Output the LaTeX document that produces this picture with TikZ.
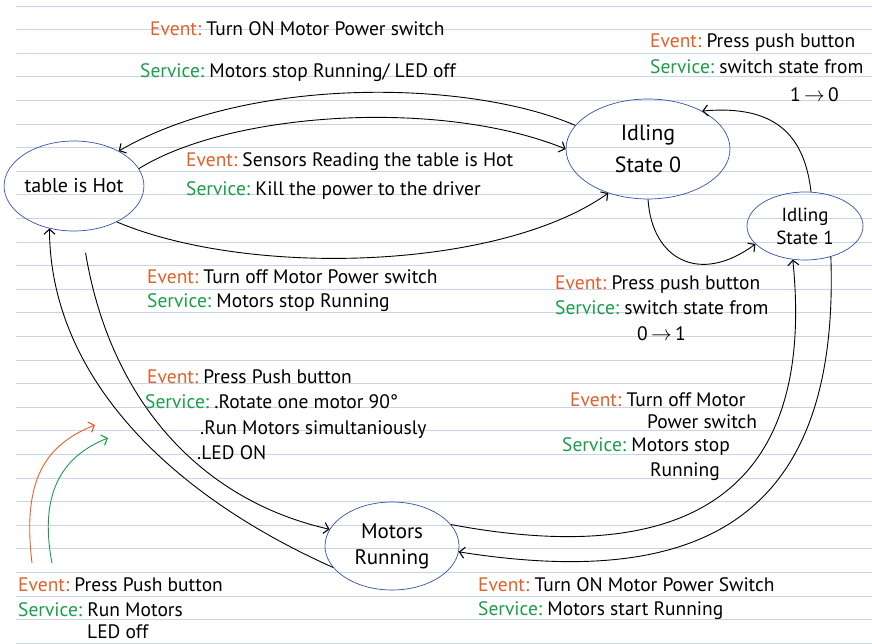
\documentclass[tikz,border=0pt]{standalone}
\usepackage{fontspec}
\setmainfont{PT Sans}
\usepackage{tikz}
\usetikzlibrary{shapes.geometric,arrows.meta,positioning}
\definecolor{evorange}{HTML}{E2602A}
\definecolor{svgreen}{HTML}{1B9E48}
\definecolor{ovalblue}{HTML}{3552A6}
\definecolor{ruleblue}{HTML}{C8D5E9}
\newcommand{\evt}{\textcolor{evorange}{Event:}}
\newcommand{\svc}{\textcolor{svgreen}{Service:}}
\tikzset{
  state/.style={ellipse,draw=ovalblue,line width=0.7pt,inner sep=0pt,align=center,font=\fontsize{21}{26}\selectfont},
  note/.style={anchor=west,inner sep=0pt,font=\fontsize{19.5}{22}\selectfont},
  trans/.style={line width=0.9pt,-{Straight Barb[length=5pt,width=11pt,line width=1.1pt]}},
  ruleline/.style={ruleblue,line width=0.8pt}
}

\begin{document}
\begin{tikzpicture}[x=1pt,y=-1pt]
  \useasboundingbox (0,0) rectangle (872,644);
  \fill[white] (0,0) rectangle (872,644);
  \foreach \k in {0,...,27}
    \draw[ruleline] (16,{6+23.6*\k}) -- (872,{6+23.6*\k});

  \node[state,minimum width=132pt,minimum height=90pt,font=\fontsize{20}{24}\selectfont] (hot) at (74,186) {table is Hot};
  \node[state,minimum width=164pt,minimum height=100pt,font=\fontsize{22}{32}\selectfont] (idle0) at (648,149) {Idling\\State 0};
  \node[state,minimum width=116pt,minimum height=68pt,font=\fontsize{19}{23}\selectfont] (idle1) at (805,226) {Idling\\State 1};
  \node[state,minimum width=134pt,minimum height=88pt] (motors) at (392,546) {Motors\\Running};

  \draw[trans] (idle0.162) .. controls (470,80) and (250,75) .. (hot.38);
  \draw[trans] (hot.15) .. controls (230,112) and (440,98) .. (idle0.west);
  \draw[trans] (hot.320) .. controls (250,278) and (500,270) .. (idle0.228);
  \draw[trans] (idle0.south) .. controls (652,260) and (700,285) .. (idle1.200);
  \draw[trans] (idle1.80) .. controls (805,140) and (780,104) .. (idle0.35);
  \draw[trans] (motors.20) .. controls (640,560) and (820,530) .. (idle1.250);
  \draw[trans] (idle1.310) .. controls (840,520) and (700,590) .. (motors.355);
  \draw[trans,shorten <=22pt] (hot.280) .. controls (110,400) and (200,500) .. (motors.165);
  \draw[trans] (motors.200) .. controls (160,490) and (50,370) .. (hot.240);

  \coordinate (orS) at (32,563);
  \coordinate (orE) at (95,425);
  \coordinate (grS) at (52,563);
  \coordinate (grE) at (108,438);
  \draw[trans,evorange] (orS) .. controls (22,480) and (45,445) .. (orE);
  \draw[trans,svgreen] (grS) .. controls (38,490) and (65,455) .. (grE);

  \node[note] (ev1) at (150,29) {\evt\ Turn ON Motor Power switch};
  \node[note] (sv1) at (140,73) {\svc\ Motors stop Running/ LED off};
  \node[note] (ev2) at (650,43) {\evt\ Press push button};
  \node[note] (sv2) at (650,67) {\svc\ switch state from};
  \node[note] (sv2b) at (790,95) {1\,$\rightarrow$\,0};
  \node[note] (ev3) at (186,162) {\evt\ Sensors Reading the table is Hot};
  \node[note] (sv3) at (186,191) {\svc\ Kill the power to the driver};
  \node[note] (ev4) at (147,277) {\evt\ Turn off Motor Power switch};
  \node[note] (sv4) at (147,303) {\svc\ Motors stop Running};
  \node[note] (ev5) at (147,377) {\evt\ Press Push button};
  \node[note] (sv5) at (145,402) {\svc\ .Rotate one motor 90\textdegree};
  \node[note] (sv5b) at (200,430) {.Run Motors simultaniously};
  \node[note] (sv5c) at (197,453) {.LED ON};
  \node[note] (ev6) at (555,285) {\evt\ Press push button};
  \node[note] (sv6) at (555,308) {\svc\ switch state from};
  \node[note] (sv6b) at (637,334) {0\,$\rightarrow$\,1};
  \node[note] (ev7) at (570,400) {\evt\ Turn off Motor};
  \node[note] (ev7b) at (647,422) {Power switch};
  \node[note] (sv7) at (562,447) {\svc\ Motors stop};
  \node[note] (sv7b) at (650,472) {Running};
  \node[note] (ev8) at (18,585) {\evt\ Press Push button};
  \node[note] (sv8) at (18,610) {\svc\ Run Motors};
  \node[note] (sv8b) at (87,632) {LED off};
  \node[note] (ev9) at (478,585) {\evt\ Turn ON Motor Power Switch};
  \node[note] (sv9) at (478,611) {\svc\ Motors start Running};
\end{tikzpicture}
\end{document}
